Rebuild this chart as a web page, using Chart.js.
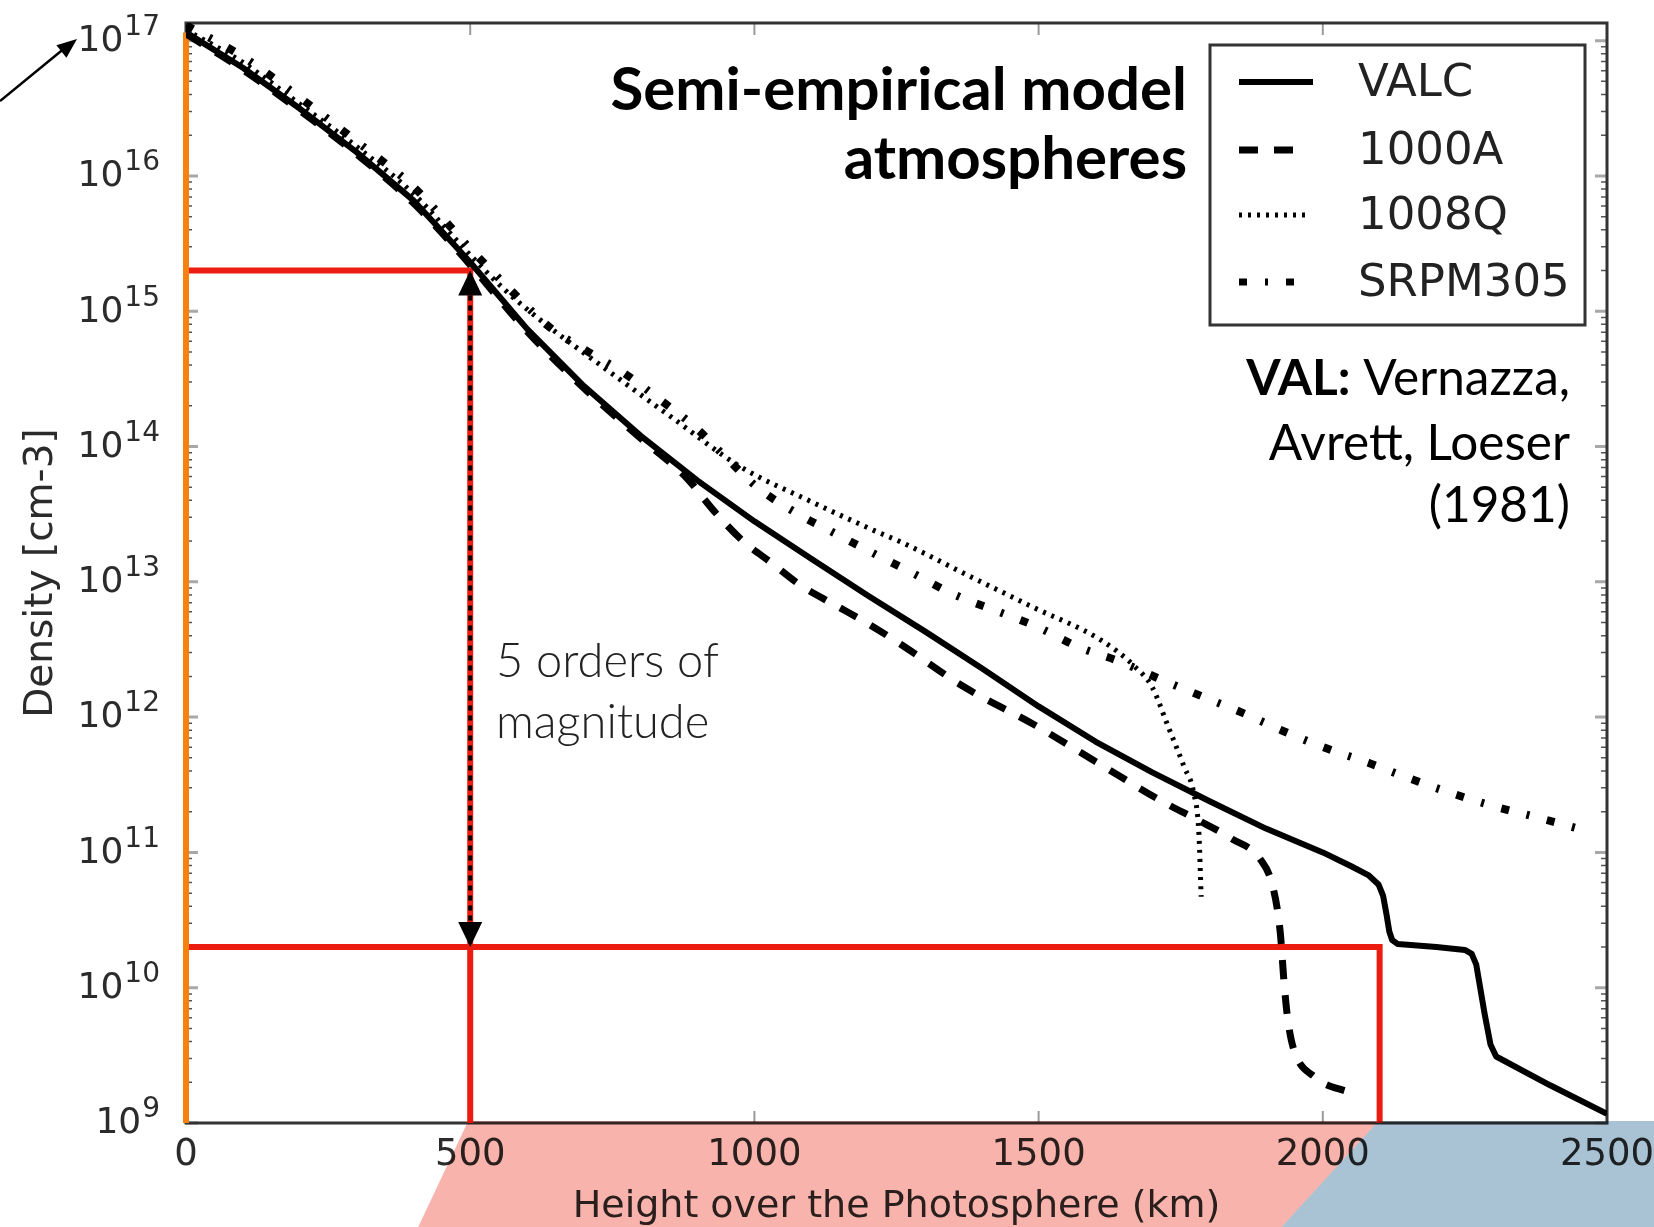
<!DOCTYPE html>
<html>
<head>
<meta charset="utf-8">
<title>Semi-empirical model atmospheres</title>
<script src="https://cdn.jsdelivr.net/npm/chart.js@4.4.1/dist/chart.umd.min.js"></script>
<style>
    html, body { margin: 0; padding: 0; background: #fff; }
    #densityChart { display: block; }
</style>
</head>
<body>
<canvas id="densityChart" width="1654" height="1227"></canvas>
<script>
// Height over the photosphere (km) and density (cm^-3) for each model
var valcHeight = [0, 100, 200, 300, 400, 500, 600, 700, 800, 900, 1000, 1100, 1200, 1300, 1400, 1500,
    1600, 1700, 1800, 1900, 2000, 2050, 2080, 2098, 2106, 2112, 2117, 2122, 2132, 2200, 2250, 2262, 2270,
    2285, 2295, 2305, 2400, 2500];
var valcDensity = [1.15e17, 6.3e16, 3.15e16, 1.5e16, 6.6e15, 2.3e15, 7.4e14, 2.8e14, 1.2e14, 5.6e13, 2.8e13,
    1.48e13, 7.9e12, 4.3e12, 2.3e12, 1.2e12, 6.6e11, 3.9e11, 2.4e11, 1.5e11, 1.0e11, 7.9e10, 6.8e10,
    5.8e10, 4.8e10, 3.5e10, 2.6e10, 2.25e10, 2.1e10, 2.0e10, 1.9e10, 1.78e10, 1.48e10, 6.3e9, 3.8e9,
    3.1e9, 1.9e9, 1.17e9];

var a1000Height = [0, 100, 200, 300, 400, 500, 600, 700, 800, 880, 930, 980, 1030, 1080, 1140, 1200, 1260,
    1370, 1490, 1600, 1720, 1780, 1840, 1890, 1912, 1925, 1932, 1938, 1948, 1985, 2050];
var a1000Density = [1.12e17, 6.1e16, 3.05e16, 1.45e16, 6.3e15, 2.2e15, 7.1e14, 2.7e14, 1.15e14, 5.9e13, 3.3e13,
    2.0e13, 1.38e13, 9.5e12, 6.8e12, 4.9e12, 3.4e12, 1.66e12, 8.9e11, 4.7e11, 2.35e11, 1.74e11, 1.26e11,
    8.9e10, 5.6e10, 2.6e10, 1.07e10, 6.0e9, 3.6e9, 2.2e9, 1.66e9];

var q1008Height = [0, 100, 200, 300, 400, 500, 560, 625, 740, 860, 975, 1095, 1210, 1260, 1375, 1490, 1610,
    1670, 1700, 1728, 1756, 1773, 1782, 1786];
var q1008Density = [1.2e17, 6.9e16, 3.4e16, 1.65e16, 7.4e15, 2.6e15, 1.45e15, 8.5e14, 3.7e14, 1.58e14, 7.1e13,
    4.0e13, 2.4e13, 1.95e13, 1.12e13, 6.5e12, 3.7e12, 2.35e12, 1.66e12, 8.5e11, 4.3e11, 2.75e11, 1.38e11, 4.7e10];

var srpmHeight = [0, 100, 200, 300, 400, 500, 570, 640, 705, 770, 835, 895, 950, 1005, 1075, 1140, 1210, 1280,
    1350, 1430, 1500, 1570, 1640, 1720, 1790, 1860, 1930, 2005, 2080, 2150, 2225, 2300, 2380, 2455];
var srpmDensity = [1.3e17, 7.6e16, 3.8e16, 1.8e16, 8.3e15, 2.9e15, 1.45e15, 7.6e14, 5.1e14, 3.5e14, 2.2e14,
    1.4e14, 8.3e13, 5.0e13, 3.2e13, 2.3e13, 1.62e13, 1.15e13, 8.1e12, 6.0e12, 4.6e12, 3.3e12, 2.6e12,
    1.86e12, 1.41e12, 1.07e12, 7.9e11, 5.9e11, 4.6e11, 3.55e11, 2.75e11, 2.2e11, 1.8e11, 1.48e11];

var heightTicks = [0, 500, 1000, 1500, 2000, 2500];
var densityTicks = [1e9, 1e10, 1e11, 1e12, 1e13, 1e14, 1e15, 1e16, 1e17];

// red guides: density at 500 km and at the top of the chromosphere (~2100 km)
var guideHeights = [500, 2100];
var guideDensities = [2e15, 2e10];
var surfaceDensity = 1.15e17;

function toPoints(xs, ys) {
    return xs.map(function (x, i) { return { x: x, y: ys[i] }; });
}

var models = [
    { label: "VALC", data: toPoints(valcHeight, valcDensity), borderWidth: 6, borderDash: [], tension: 0 },
    { label: "1000A", data: toPoints(a1000Height, a1000Density), borderWidth: 7, borderDash: [19, 16] },
    { label: "1008Q", data: toPoints(q1008Height, q1008Density), borderWidth: 5, borderDash: [3, 6] },
    { label: "SRPM305", data: toPoints(srpmHeight, srpmDensity), borderWidth: 8, borderDash: [8, 18, 3, 18] }
];
models.forEach(function (m) {
    m.borderColor = "#000";
    m.pointRadius = 0;
    m.fill = false;
    if (m.tension === undefined) m.cubicInterpolationMode = "monotone";
    m.borderJoinStyle = "round";
    m.order = 0;
});

var guides = [
    {
        label: "guide-low", order: 2,
        data: [{ x: 0, y: guideDensities[0] }, { x: guideHeights[0], y: guideDensities[0] }, { x: guideHeights[0], y: densityTicks[0] }]
    },
    {
        label: "guide-high", order: 2,
        data: [{ x: 0, y: guideDensities[1] }, { x: guideHeights[1], y: guideDensities[1] }, { x: guideHeights[1], y: densityTicks[0] }]
    },
    {
        label: "surface", order: 1,
        data: [{ x: 0, y: surfaceDensity }, { x: 0, y: densityTicks[0] }]
    }
];
guides.forEach(function (g) {
    g.borderColor = g.label === "surface" ? "#f5820f" : "#ec1c10";
    g.borderWidth = 6;
    g.pointRadius = 0;
    g.tension = 0;
    g.clip = false;
    g.borderJoinStyle = "miter";
});

var TEXT = "#2b2b2b";

var scenery = {
    id: "scenery",
    beforeDraw: function (chart) {
        var ctx = chart.ctx;
        ctx.save();
        ctx.fillStyle = "#fff";
        ctx.fillRect(0, 0, chart.width, chart.height);
        ctx.restore();
    },
    beforeDatasetsDraw: function (chart) {
        var ctx = chart.ctx, a = chart.chartArea;
        var xs = chart.scales.x, ys = chart.scales.y;
        ctx.save();
        // inside ticks
        ctx.strokeStyle = "#9a9a9a";
        ctx.lineWidth = 2;
        heightTicks.forEach(function (h) {
            var px = xs.getPixelForValue(h);
            ctx.beginPath();
            ctx.moveTo(px, a.top); ctx.lineTo(px, a.top + 12);
            ctx.moveTo(px, a.bottom); ctx.lineTo(px, a.bottom - 12);
            ctx.stroke();
        });
        for (var d = 9; d <= 17; d++) {
            for (var m = 1; m <= 9; m++) {
                var v = m * Math.pow(10, d);
                if (v > ys.max) break;
                var py = ys.getPixelForValue(v);
                var len = m === 1 ? 12 : 6;
                ctx.strokeStyle = m === 1 ? "#a8a8a8" : "#555";
                ctx.lineWidth = m === 1 ? 3 : 1.5;
                ctx.beginPath();
                ctx.moveTo(a.left, py); ctx.lineTo(a.left + len, py);
                ctx.moveTo(a.right, py); ctx.lineTo(a.right - len, py);
                ctx.stroke();
            }
        }
        // frame
        ctx.strokeStyle = "#333";
        ctx.lineWidth = 3;
        ctx.strokeRect(a.left, a.top, a.right - a.left, a.bottom - a.top);
        ctx.restore();
    },
    afterDatasetsDraw: function (chart) {
        var ctx = chart.ctx;
        var xs = chart.scales.x, ys = chart.scales.y;
        var ax = xs.getPixelForValue(guideHeights[0]);
        var yTop = ys.getPixelForValue(guideDensities[0]);
        var yBot = ys.getPixelForValue(guideDensities[1]);
        var head = 25, half = 12;
        ctx.save();
        ctx.strokeStyle = "#000";
        ctx.lineWidth = 4;
        ctx.setLineDash([5, 5]);
        ctx.beginPath();
        ctx.moveTo(ax, yTop + head);
        ctx.lineTo(ax, yBot - head);
        ctx.stroke();
        ctx.setLineDash([]);
        ctx.fillStyle = "#000";
        ctx.beginPath();
        ctx.moveTo(ax, yTop); ctx.lineTo(ax - half, yTop + head); ctx.lineTo(ax + half, yTop + head);
        ctx.closePath(); ctx.fill();
        ctx.beginPath();
        ctx.moveTo(ax, yBot); ctx.lineTo(ax - half, yBot - head); ctx.lineTo(ax + half, yBot - head);
        ctx.closePath(); ctx.fill();
        ctx.restore();
    },
    afterDraw: function (chart) {
        var ctx = chart.ctx;
        var xs = chart.scales.x, ys = chart.scales.y;
        ctx.save();

        // power-of-ten labels on the density axis
        ctx.fillStyle = TEXT;
        ctx.textBaseline = "middle";
        densityTicks.forEach(function (v) {
            var py = ys.getPixelForValue(v);
            var exp = String(Math.round(Math.log10(v)));
            var right = 160;
            ctx.textAlign = "right";
            ctx.font = "28px 'DejaVu Sans'";
            var ew = ctx.measureText(exp).width;
            ctx.fillText(exp, right, py - 13);
            ctx.font = "36px 'DejaVu Sans'";
            ctx.fillText("10", right - ew - 1, py + 1);
        });

        // heading
        ctx.fillStyle = "#000";
        ctx.textAlign = "right";
        ctx.textBaseline = "alphabetic";
        ctx.font = "bold 60px Lato";
        ctx.fillText("Semi-empirical model", 1187, 110);
        ctx.fillText("atmospheres", 1187, 179);

        // reference note
        ctx.font = "49.5px Lato";
        var rest = " Vernazza,";
        var restW = ctx.measureText(rest).width;
        ctx.fillText(rest, 1570, 395);
        ctx.font = "bold 49.5px Lato";
        ctx.fillText("VAL:", 1570 - restW, 395);
        ctx.font = "49.5px Lato";
        ctx.fillText("Avrett, Loeser", 1570, 460);
        ctx.fillText("(1981)", 1570, 522);

        // annotation beside the double arrow
        ctx.fillStyle = "#222";
        ctx.textAlign = "left";
        ctx.font = "300 47px Lato";
        ctx.fillText("5 orders of", 496, 677);
        ctx.fillText("magnitude", 496, 738);

        // legend box
        ctx.fillStyle = "#fff";
        ctx.fillRect(1210, 45, 375, 280);
        ctx.strokeStyle = "#333";
        ctx.lineWidth = 3;
        ctx.strokeRect(1210, 45, 375, 280);
        var rows = [82, 150, 215, 282];
        var sampleEnd = [1313, 1305, 1310, 1298];
        models.forEach(function (m, i) {
            ctx.strokeStyle = m.borderColor;
            ctx.lineWidth = Math.min(m.borderWidth, 7);
            ctx.setLineDash(m.borderDash);
            ctx.lineCap = "butt";
            ctx.beginPath();
            ctx.moveTo(1239, rows[i]);
            ctx.lineTo(sampleEnd[i], rows[i]);
            ctx.stroke();
            ctx.setLineDash([]);
            ctx.fillStyle = "#222";
            ctx.textAlign = "left";
            ctx.textBaseline = "middle";
            ctx.font = "45px 'DejaVu Sans'";
            ctx.fillText(m.label, 1358, rows[i] + 2);
        });

        // pointer toward the top tick label
        ctx.strokeStyle = "#000";
        ctx.fillStyle = "#000";
        ctx.lineWidth = 2.5;
        ctx.beginPath();
        ctx.moveTo(0, 101);
        ctx.lineTo(66, 47);
        ctx.stroke();
        var ang = Math.atan2(39 - 101, 77 - 0);
        ctx.beginPath();
        ctx.moveTo(77, 39);
        ctx.lineTo(77 - 20 * Math.cos(ang) + 8 * Math.sin(ang), 39 - 20 * Math.sin(ang) - 8 * Math.cos(ang));
        ctx.lineTo(77 - 20 * Math.cos(ang) - 8 * Math.sin(ang), 39 - 20 * Math.sin(ang) + 8 * Math.cos(ang));
        ctx.closePath();
        ctx.fill();

        // slide backdrop shapes under the axis
        var bottom = chart.chartArea.bottom - 2;
        var x500 = xs.getPixelForValue(guideHeights[0]) - 2;
        var x2100 = xs.getPixelForValue(guideHeights[1]) - 1;
        var H = chart.height, W = chart.width;
        ctx.globalCompositeOperation = "multiply";
        ctx.fillStyle = "#f8b4ac";
        ctx.beginPath();
        ctx.moveTo(x500, bottom);
        ctx.lineTo(x2100, bottom);
        ctx.lineTo(x2100 - 97, H);
        ctx.lineTo(x500 - 50, H);
        ctx.closePath();
        ctx.fill();
        ctx.fillStyle = "#a9c3d4";
        ctx.beginPath();
        ctx.moveTo(x2100, bottom);
        ctx.lineTo(W, bottom);
        ctx.lineTo(W, H);
        ctx.lineTo(x2100 - 97, H);
        ctx.closePath();
        ctx.fill();
        ctx.restore();
    }
};

var ctx = document.getElementById("densityChart").getContext("2d");
var densityChart = new Chart(ctx, {
    type: "line",
    data: { datasets: models.concat(guides) },
    options: {
        responsive: false,
        animation: false,
        devicePixelRatio: 1,
        layout: { padding: { top: 23, right: 47, left: 0, bottom: 0 } },
        plugins: {
            legend: { display: false },
            tooltip: { enabled: false }
        },
        scales: {
            x: {
                type: "linear",
                min: 0,
                max: 2500,
                grid: { display: false, drawTicks: false },
                border: { display: false },
                afterBuildTicks: function (s) {
                    s.ticks = heightTicks.map(function (v) { return { value: v }; });
                },
                afterFit: function (s) {
                    s.height = 104;
                    s.paddingLeft = 0;
                    s.paddingRight = 0;
                },
                ticks: {
                    padding: 10,
                    color: TEXT,
                    maxRotation: 0,
                    font: { family: "DejaVu Sans", size: 37 },
                    callback: function (v) { return String(v); }
                },
                title: {
                    display: true,
                    text: "Height over the Photosphere (km)",
                    color: TEXT,
                    font: { family: "DejaVu Sans", size: 38, lineHeight: 1 },
                    padding: { top: 0, bottom: 1 }
                }
            },
            y: {
                type: "logarithmic",
                min: 1e9,
                max: 1.35e17,
                grid: { display: false, drawTicks: false },
                border: { display: false },
                afterBuildTicks: function (s) {
                    s.ticks = densityTicks.map(function (v) { return { value: v }; });
                },
                afterFit: function (s) {
                    s.width = 186;
                    s.paddingTop = 0;
                    s.paddingBottom = 0;
                },
                ticks: { display: false },
                title: {
                    display: true,
                    text: "Density [cm-3]",
                    color: TEXT,
                    font: { family: "DejaVu Sans", size: 39, lineHeight: 1 },
                    padding: { top: 22, bottom: 0 }
                }
            }
        }
    },
    plugins: [scenery]
});
</script>
</body>
</html>
